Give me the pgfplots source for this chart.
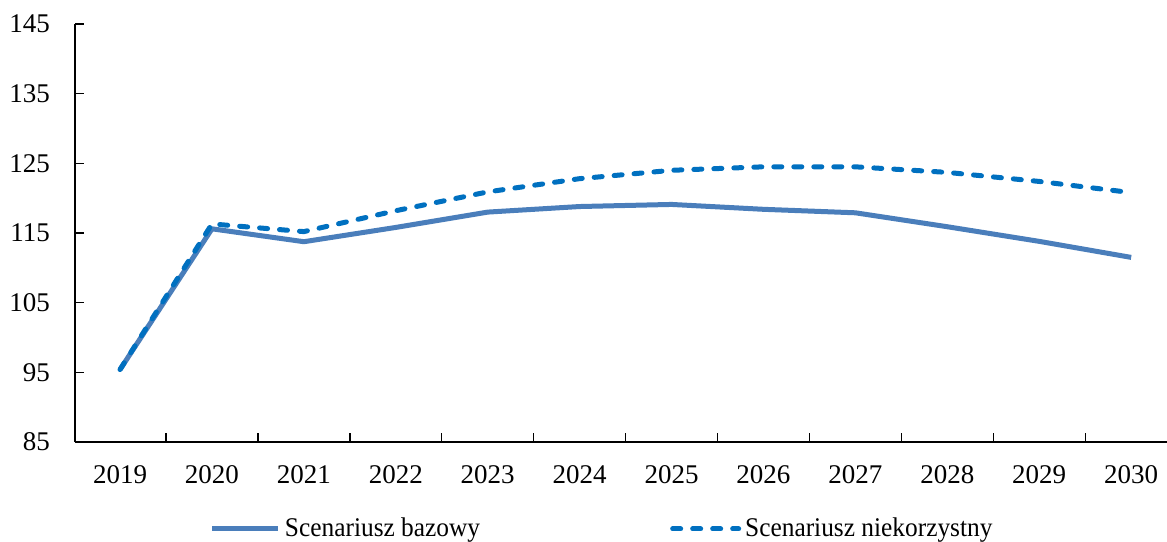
\documentclass[border=0pt]{standalone}
\usepackage{pgfplots}
\pgfplotsset{compat=1.18}
\usepackage{fontspec}
\setmainfont{Liberation Serif}
\newfontfamily\legfont[FakeStretch=0.94]{Liberation Serif}
\definecolor{baseC}{HTML}{4A7EBB}
\definecolor{advC}{HTML}{0070C0}
\pgfplotstableread{
x base adv
0 95.4 95.4
1 115.6 116.3
2 113.75 115.2
3 115.8 118.2
4 118.0 120.9
5 118.8 122.8
6 119.1 124.0
7 118.4 124.5
8 117.9 124.5
9 115.9 123.7
10 113.8 122.4
11 111.5 120.8
}\datatable
\begin{document}
\begin{tikzpicture}
\useasboundingbox (0,0) rectangle (583.5pt,270.5pt);
\begin{axis}[
  at={(37.5pt,49.5pt)}, anchor=south west,
  scale only axis, width=546pt, height=209pt,
  xmin=-0.49, xmax=11.39, ymin=85, ymax=145,
  axis x line*=bottom, axis y line*=left,
  axis line style={black, line width=0.9pt, -},
  xtick={0,...,11},
  xticklabels={2019,2020,2021,2022,2023,2024,2025,2026,2027,2028,2029,2030},
  major x tick style={draw=none},
  minor xtick={0.5,1.5,...,10.5},
  minor tick length=4.5pt,
  minor x tick style={black, line width=0.7pt},
  ytick={85,95,...,145},
  major tick length=4.5pt,
  tick align=inside,
  y tick style={black, line width=0.7pt},
  /pgf/number format/assume math mode=true,
  /pgf/number format/1000 sep={},
  tick label style={font=\fontsize{13.5}{16}\selectfont},
  xticklabel style={yshift=-8pt},
  yticklabel style={xshift=-9pt},
  legend columns=2,
  legend style={at={(0.1236,-0.208)}, anchor=west, draw=none, fill=none,
    inner sep=0pt, outer sep=0pt, font=\legfont\fontsize{13.5}{16}\selectfont,
    /tikz/every even column/.append style={column sep=93pt}},
  legend cell align=left,
  legend image code/.code={\draw[#1] (0pt,0pt) -- (33pt,0pt);},
]
\addplot[baseC, line width=2.5pt, line join=round] table[x=x, y=base] {\datatable};
\addlegendentry{Scenariusz bazowy}
\addplot[advC, line width=2.5pt, line cap=round, line join=round, dash pattern=on 4pt off 6pt] table[x=x, y=adv] {\datatable};
\addlegendentry{Scenariusz niekorzystny}
\end{axis}
\end{tikzpicture}
\end{document}
